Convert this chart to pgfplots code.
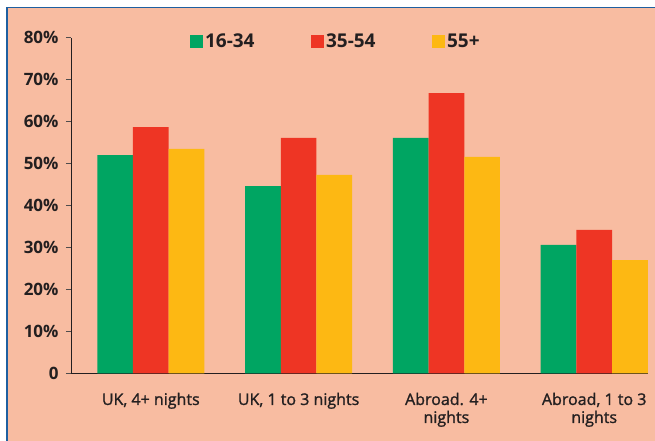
\documentclass[border=0pt]{standalone}
\usepackage{fontspec}
\setmainfont{Open Sans}
\newfontfamily\catfont{Open Sans}[FakeBold=1.3]
\usepackage{pgfplots}
\pgfplotsset{compat=1.18}
\definecolor{bgsalmon}{HTML}{F8BCA1}
\definecolor{cgreen}{HTML}{00A562}
\definecolor{cred}{HTML}{EE3524}
\definecolor{cyellow}{HTML}{FDB813}
\definecolor{cblue}{HTML}{1E5FA0}
\definecolor{ctext}{HTML}{231F20}
\begin{document}
\begin{tikzpicture}
\useasboundingbox (0,0) rectangle (655bp,441bp);
\fill[white] (0,0) rectangle (655bp,441bp);
\fill[bgsalmon] (7bp,0) rectangle (655bp,433.5bp);
\draw[cblue, line width=1.8bp] (7bp,0) -- (7bp,433.5bp) -- (655bp,433.5bp);
\begin{axis}[
  scale only axis,
  width=577bp, height=335.6bp,
  at={(71bp,67.7bp)}, anchor=south west,
  xmin=-0.54, xmax=3.364,
  ymin=0, ymax=80,
  ybar=0pt, bar width=35.7bp,
  axis x line=bottom, axis y line=left,
  axis line style={ctext, line width=0.9bp, -},
  x axis line style={-},
  y axis line style={-},
  xtick={0,1,2,3},
  xticklabels={{UK, 4+ nights},{UK, 1 to 3 nights},{Abroad. 4+\\nights},{Abroad, 1 to 3\\nights}},
  xticklabel style={align=center, font=\catfont\fontsize{16bp}{18bp}\selectfont, text=ctext, anchor=north, yshift=-11bp},
  x tick style={draw=none},
  ytick={0,10,...,80},
  yticklabels={0,10\%,20\%,30\%,40\%,50\%,60\%,70\%,80\%},
  yticklabel style={font=\fontsize{17bp}{20bp}\selectfont\bfseries, text=ctext, anchor=east, xshift=-4bp},
  y tick style={ctext!80, line width=0.9bp},
  tick align=outside,
  major tick length=5bp,
  legend columns=3,
  legend style={draw=none, fill=none, inner sep=0pt, at={(0.206,0.989)}, anchor=west,
    font=\fontsize{19bp}{20bp}\selectfont\bfseries, text=ctext,
    nodes={inner xsep=2bp},
    /tikz/every even column/.append style={column sep=0bp}},
  legend image code/.code={\fill[#1] (0bp,-6.5bp) rectangle (13bp,6.5bp);},
]
\addplot[fill=cgreen, draw=none] coordinates {(0,52.0) (1,44.6) (2,56.1) (3,30.6)};
\addplot[fill=cred, draw=none] coordinates {(0,58.7) (1,56.1) (2,66.8) (3,34.2)};
\addplot[fill=cyellow, draw=none] coordinates {(0,53.5) (1,47.3) (2,51.6) (3,27.0)};
\legend{\makebox[104bp][l]{16-34},\makebox[104bp][l]{35-54},\makebox[40bp][l]{55+}}
\end{axis}
\end{tikzpicture}
\end{document}
